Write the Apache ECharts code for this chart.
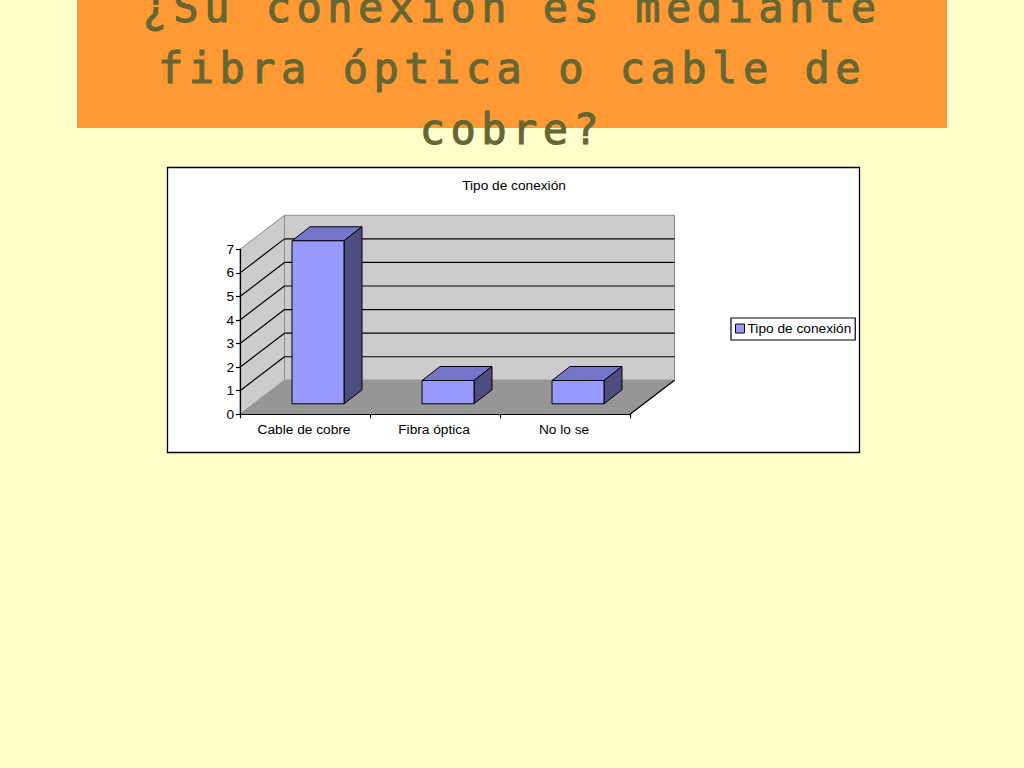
<!DOCTYPE html>
<html>
<head>
<meta charset="utf-8">
<style>
html,body{margin:0;padding:0;background:#ffffcc;overflow:hidden}
#c{width:1024px;height:768px}
svg text[style*="42px"]{letter-spacing:5.5px}
</style>
<script src="https://cdn.jsdelivr.net/npm/echarts@6/dist/echarts.min.js"></script>
</head>
<body>
<div id="c"></div>
<script>
const slideTitleLines = ['¿Su conexión es mediante', 'fibra óptica o cable de', 'cobre?'];
const chartTitle = 'Tipo de conexión';
const seriesName = 'Tipo de conexión';
const categories = ['Cable de cobre', 'Fibra óptica', 'No lo se'];
const values = [7, 1, 1];
const yTicks = [0, 1, 2, 3, 4, 5, 6, 7];

const font = '"Liberation Sans", Arial, sans-serif';
const depthX = 44.5, depthY = 34;
const barDx = 13, barDy = 10.5, barDepthX = 18, barDepthY = 14;
const colors = {front:'#9999ff', top:'#7575c9', side:'#4d4d80', wall:'#cccccc', floor:'#969696', edge:'#8c8c8c'};

function poly(points, fill, stroke, lw) {
  return {type:'polygon', shape:{points}, style:{fill, stroke, lineWidth:lw === undefined ? 1 : lw}};
}
function seg(x1, y1, x2, y2, stroke, lw) {
  return {type:'line', shape:{x1, y1, x2, y2}, style:{stroke, lineWidth:lw || 1.2}};
}

function renderWalls(params, api) {
  const cs = params.coordSys;
  const L = cs.x, R = cs.x + cs.width;
  const y0 = api.coord([0, yTicks[0]])[1];
  const yT = api.coord([0, yTicks[yTicks.length - 1]])[1];
  const children = [
    poly([[L, y0], [L + depthX, y0 - depthY], [L + depthX, yT - depthY], [L, yT]], colors.wall, colors.edge),
    poly([[L + depthX, y0 - depthY], [R + depthX, y0 - depthY], [R + depthX, yT - depthY], [L + depthX, yT - depthY]], colors.wall, colors.edge),
    poly([[L, y0], [R, y0], [R + depthX, y0 - depthY], [L + depthX, y0 - depthY]], colors.floor, colors.floor)
  ];
  yTicks.slice(1, -1).forEach(function (v) {
    const y = api.coord([0, v])[1];
    children.push(seg(L, y, L + depthX, y - depthY, '#000'));
    children.push(seg(L + depthX, y - depthY, R + depthX, y - depthY, '#000'));
  });
  children.push(seg(R, y0, R + depthX, y0 - depthY, '#000'));
  return {type:'group', children};
}

function renderBar(params, api) {
  const i = api.value(0), v = api.value(1);
  const p = api.coord([i, v]);
  const y0 = api.coord([i, 0])[1];
  const w = api.size([1, 0])[0] * 0.4;
  const l = p[0] - w / 2 + barDx, r = l + w;
  const b = y0 - barDy, t = b - (y0 - p[1]) * 0.988;
  return {type:'group', children:[
    poly([[l, t], [r, t], [r + barDepthX, t - barDepthY], [l + barDepthX, t - barDepthY]], colors.top, '#000'),
    poly([[r, b], [r + barDepthX, b - barDepthY], [r + barDepthX, t - barDepthY], [r, t]], colors.side, '#000'),
    poly([[l, t], [r, t], [r, b], [l, b]], colors.front, '#000')
  ]};
}

const chart = echarts.init(document.getElementById('c'), null, {renderer:'svg', width:1024, height:768});
chart.setOption({
  animation:false,
  backgroundColor:'#ffffcc',
  title:[{
    text:chartTitle, left:514, top:178, textAlign:'center', padding:0,
    textStyle:{fontFamily:font, fontSize:13.7, fontWeight:'normal', color:'#000', lineHeight:15}
  }],
  graphic:[
    {type:'rect', z:-20, shape:{x:77, y:0, width:870, height:128}, style:{fill:'#ff9933'}},
    {type:'rect', z:-19, shape:{x:167.5, y:167.5, width:692, height:285}, style:{fill:'#ffffff', stroke:'#000', lineWidth:1.3}}
  ].concat(slideTitleLines.map(function (line, i) {
    return {type:'text', z:50, x:512, y:28.5 + i * 61,
      style:{text:line, fill:'#666633', stroke:'#666633', lineWidth:1, fontFamily:'"DejaVu Sans Mono", monospace', fontSize:42,
        textAlign:'center', textVerticalAlign:'bottom', verticalAlign:'alphabetic'}};
  })),
  legend:{
    left:731, top:318, padding:[3.5, 4, 4.5, 4], orient:'horizontal', selectedMode:false,
    backgroundColor:'#fff', borderColor:'#000', borderWidth:1.2, borderRadius:0,
    itemWidth:9, itemHeight:9, icon:'rect',
    itemStyle:{color:colors.front, borderColor:'#000', borderWidth:1},
    textStyle:{fontFamily:font, fontSize:13.7, color:'#000', padding:[0, 0, 0, -2]},
    data:[seriesName]
  },
  grid:{left:240, top:249.3, width:390, height:165, containLabel:false},
  xAxis:{
    type:'category', data:categories, z:6,
    axisLine:{lineStyle:{color:'#000', width:1.2}},
    axisTick:{show:true, length:4, alignWithLabel:false, lineStyle:{color:'#000', width:1.2}},
    axisLabel:{fontFamily:font, fontSize:13.7, color:'#000', margin:8, padding:[0, 2, 0, 0]}
  },
  yAxis:{
    type:'value', min:0, max:7, interval:1, z:6,
    splitLine:{show:false},
    axisLine:{show:true, lineStyle:{color:'#000', width:1.2}},
    axisTick:{show:true, length:4, lineStyle:{color:'#000', width:1.2}},
    axisLabel:{fontFamily:font, fontSize:13.7, color:'#000', margin:6,
      formatter:function (v) { return String(v); }}
  },
  series:[
    {type:'custom', name:'walls', silent:true, z:1, clip:false, renderItem:renderWalls, data:[[0, 0]], encode:{x:0, y:1}},
    {type:'custom', name:seriesName, z:3, clip:false, renderItem:renderBar,
      itemStyle:{color:colors.front},
      data:values.map(function (v, i) { return [i, v]; }), encode:{x:0, y:1}}
  ]
});
</script>
</body>
</html>
